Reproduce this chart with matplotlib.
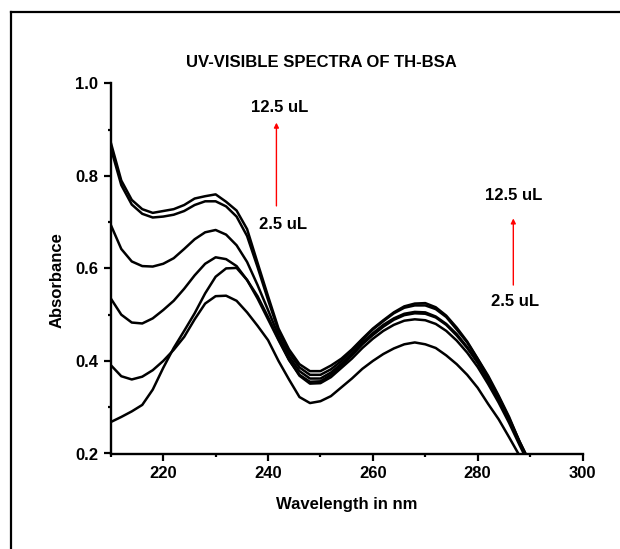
import matplotlib
matplotlib.use("Agg")
import matplotlib.pyplot as plt
from matplotlib.lines import Line2D
from matplotlib.ticker import MultipleLocator

plt.rcParams['font.family'] = ['Liberation Sans', 'DejaVu Sans']
plt.rcParams['font.weight'] = 'bold'

wavelength = list(range(210, 291, 2))

curve_a = [0.872, 0.790, 0.748, 0.728, 0.720, 0.724, 0.728, 0.737, 0.751, 0.756,
           0.760, 0.744, 0.725, 0.685, 0.612, 0.540, 0.470, 0.425, 0.393, 0.378,
           0.378, 0.390, 0.405, 0.425, 0.448, 0.470, 0.488, 0.505, 0.518, 0.524,
           0.525, 0.516, 0.498, 0.472, 0.442, 0.405, 0.368, 0.325, 0.279, 0.225, 0.178]
curve_b = [0.860, 0.780, 0.738, 0.718, 0.710, 0.712, 0.716, 0.724, 0.737, 0.745,
           0.745, 0.734, 0.712, 0.670, 0.603, 0.532, 0.465, 0.418, 0.386, 0.370,
           0.370, 0.382, 0.400, 0.422, 0.446, 0.468, 0.486, 0.503, 0.515, 0.520,
           0.520, 0.512, 0.495, 0.468, 0.440, 0.404, 0.365, 0.322, 0.276, 0.226, 0.180]
curve_c = [0.694, 0.642, 0.615, 0.605, 0.604, 0.610, 0.622, 0.642, 0.663, 0.678,
           0.683, 0.673, 0.650, 0.614, 0.564, 0.510, 0.455, 0.410, 0.378, 0.362,
           0.362, 0.375, 0.394, 0.416, 0.440, 0.460, 0.478, 0.492, 0.502, 0.506,
           0.505, 0.496, 0.480, 0.458, 0.430, 0.398, 0.360, 0.318, 0.273, 0.224, 0.178]
curve_d = [0.535, 0.500, 0.483, 0.481, 0.492, 0.510, 0.530, 0.556, 0.585, 0.610,
           0.624, 0.620, 0.605, 0.575, 0.535, 0.490, 0.445, 0.402, 0.370, 0.355,
           0.356, 0.370, 0.390, 0.412, 0.436, 0.456, 0.474, 0.489, 0.499, 0.503,
           0.502, 0.494, 0.478, 0.455, 0.428, 0.396, 0.358, 0.316, 0.272, 0.223, 0.176]
curve_e = [0.391, 0.367, 0.360, 0.366, 0.380, 0.400, 0.424, 0.452, 0.490, 0.524,
           0.540, 0.541, 0.530, 0.505, 0.476, 0.445, 0.400, 0.360, 0.322, 0.309,
           0.313, 0.324, 0.343, 0.362, 0.383, 0.400, 0.415, 0.427, 0.436, 0.440,
           0.436, 0.428, 0.412, 0.393, 0.370, 0.342, 0.307, 0.274, 0.235, 0.195, 0.150]
curve_f = [0.268, 0.279, 0.291, 0.305, 0.338, 0.385, 0.428, 0.465, 0.503, 0.546,
           0.582, 0.600, 0.601, 0.575, 0.540, 0.495, 0.447, 0.403, 0.368, 0.351,
           0.352, 0.365, 0.385, 0.405, 0.428, 0.448, 0.465, 0.478, 0.487, 0.490,
           0.488, 0.480, 0.465, 0.444, 0.418, 0.387, 0.350, 0.310, 0.266, 0.218, 0.172]
curves = [curve_a, curve_b, curve_c, curve_d, curve_f, curve_e]

title = "UV-VISIBLE SPECTRA OF TH-BSA"
xlabel = "Wavelength in nm"
ylabel = "Absorbance"
label_hi = "12.5 uL"
label_lo = "2.5 uL"

W, H = 620, 549
fig = plt.figure(figsize=(W / 100, H / 100), dpi=100)
ax = fig.add_axes([110.8 / W, 1 - 453.5 / H, (582.5 - 110.8) / W, (453.5 - 83.3) / H])

for c in curves:
    ax.plot(wavelength, c, color='black', lw=1.8, solid_joinstyle='round')

ax.set_xlim(210, 300)
ax.set_ylim(0.2, 1.0)
ax.xaxis.set_major_locator(MultipleLocator(20))
ax.xaxis.set_minor_locator(MultipleLocator(10))
ax.yaxis.set_major_locator(MultipleLocator(0.2))
ax.yaxis.set_minor_locator(MultipleLocator(0.1))
ax.yaxis.set_major_formatter(plt.FuncFormatter(lambda v, p: f"{v:.1f}"))
ax.tick_params(which='major', direction='out', length=5, width=1.6, labelsize=12, pad=4)
ax.tick_params(which='minor', direction='out', length=2.5, width=1.6)
for s in ['top', 'right']:
    ax.spines[s].set_visible(False)
for s in ['left', 'bottom']:
    ax.spines[s].set_linewidth(1.7)
for lab in ax.get_xticklabels() + ax.get_yticklabels():
    lab.set_fontweight('bold')

ax.set_xlabel(xlabel, fontsize=12, fontweight='bold')
ax.set_ylabel(ylabel, fontsize=12, fontweight='bold')
ax.yaxis.label.set_va('center')
ax.xaxis.label.set_va('center')
ax.yaxis.set_label_coords(57.3 / W, 1 - 280 / H, transform=fig.transFigure)
ax.xaxis.set_label_coords(346.6 / W, 1 - 505 / H, transform=fig.transFigure)
fig.text(321.5 / W, 1 - 62.5 / H, title, fontsize=12, fontweight='bold', ha='center', va='center')

arrow = dict(arrowstyle='-|>', color='red', lw=1.0, mutation_scale=7, shrinkA=0, shrinkB=0)
ax.annotate('', xy=(241.6, 0.915), xytext=(241.6, 0.735), arrowprops=arrow)
ax.text(242.2, 0.948, label_hi, fontsize=12, fontweight='bold', ha='center', va='center')
ax.text(242.9, 0.694, label_lo, fontsize=12, fontweight='bold', ha='center', va='center')
ax.annotate('', xy=(286.8, 0.708), xytext=(286.8, 0.564), arrowprops=arrow)
ax.text(286.95, 0.757, label_hi, fontsize=12, fontweight='bold', ha='center', va='center')
ax.text(287.2, 0.529, label_lo, fontsize=12, fontweight='bold', ha='center', va='center')

# outer frame (left and top edges visible)
fig.add_artist(Line2D([11 / W, 11 / W], [0, 1 - 12 / H], transform=fig.transFigure, color='black', lw=1.6))
fig.add_artist(Line2D([11 / W, 1], [1 - 12 / H, 1 - 12 / H], transform=fig.transFigure, color='black', lw=1.6))

fig.savefig('out.png', dpi=100)
